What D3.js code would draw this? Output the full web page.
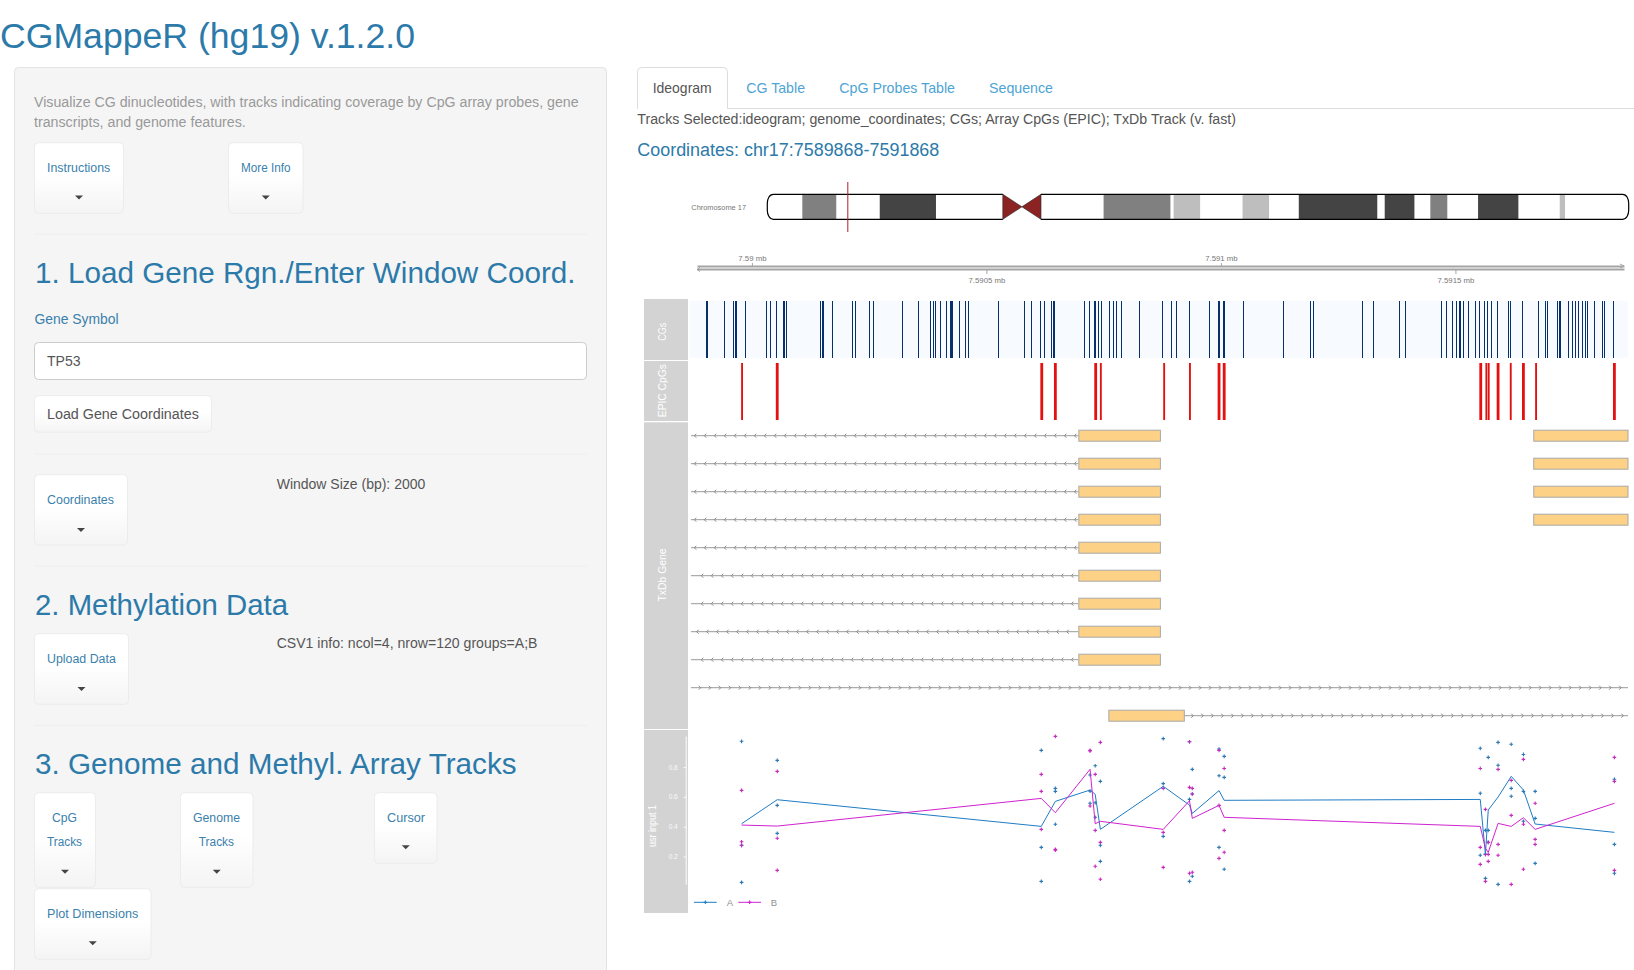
<!DOCTYPE html>
<html><head><meta charset="utf-8"><title>CGMappeR</title>
<script src="https://cdn.jsdelivr.net/npm/d3@7/dist/d3.min.js"></script>
<style>html,body{margin:0;padding:0;background:#fff;overflow:hidden}svg{display:block}text{font-family:"Liberation Sans",Arial,sans-serif}</style>
</head><body><svg id="p" width="1634" height="970"></svg>
<script>
// ---------- chart data ----------
const windowStart = 7589868, windowEnd = 7591868;
// CG dinucleotide positions, bp from window start
const cgOffsets = [34,36,73,91,96,98,118,129,163,171,184,198,200,205,225,277,281,283,303,346,352,382,391,453,487,512,519,523,534,545,555,557,559,574,587,593,
 657,713,728,747,755,770,775,777,841,851,861,863,871,876,894,902,909,920,958,1007,1026,1037,1064,1107,1126,1128,1136,1138,1180,1265,1322,1329,
 1433,1457,1512,1525,1602,1612,1625,1634,1639,1641,1649,1659,1674,1683,1693,1700,1708,1721,1745,1749,1774,1809,1824,1828,1848,1853,1855,1873,1881,1887,1894,1902,1909,1913,1928,1945,1949,1968];
// EPIC probe centres and spans (bp)
const epicOffsets = [111,186,750,779,865,876,1011,1066,1128,1139,1686,1698,1703,1723,1750,1777,1804,1971];
const epicSpans   = [4,6,6,6,6,4,4,4,6,6,6,4,4,6,4,6,4,6];
// Transcripts: exon ranges in bp, intron range, strand, first arrow
const txExons = [
 [[828,1003],[1798,2000]],[[828,1003],[1798,2000]],[[828,1003],[1798,2000]],[[828,1003],[1798,2000]],
 [[828,1003]],[[828,1003]],[[828,1003]],[[828,1003]],[[828,1003]],[],[[892,1054]]];
const txIntronStart = [2,2,2,2,2,2,2,2,2,2,1054];
const txIntronEnd   = [828,828,828,828,828,828,828,828,828,2000,2000];
const txStrand      = [-1,-1,-1,-1,-1,-1,-1,-1,-1,1,1];
const txFirstArrow  = [9,9,9,9,9,24,24,14,24,23,1073];
// Methylation sites
const siteOffsets = [110,186,749,779,853,864,875,1009,1065,1071,1128,1139,1685,1696,1702,1723,1751,1777,1802,1971];
const methylA = [[.973,.275,.026],[.845,.543,.355],[.912,.261,.033],[.657,.637,.416],[.747,.639,.557],[.809,.561,.463],[.704,.275,.167],[.991,.689,.335],[.970,.583,.033],[.785,.619,.067],
 [.921,.742,.261],[.872,.731,.114],[.926,.624,.208],[.375,.214,.053],[.865,.375,.295],[.966,.812,.013],[.953,.657,.604],[.885,.637,.436],[.637,.456,.154],[.718,.281,.087]];
const methylB = [[.644,.299,.275],[.771,.322,.107],[.751,.637,.382],[1.006,.248,.243],[.912,.908,.539],[.751,.375,.134],[.966,.295,.047],[.657,.362,.127],[.970,.664,.087],[.657,.619,.094],
 [.912,.543,.187],[.791,.375,.228],[.791,.261,.147],[.516,.214,.033],[.295,.214,.167],[.785,.281,.208],[.711,.476,.013],[.852,.416,.114],[.557,.315,.281],[.865,.704,.107]];
const meanA = [.420,.581,.402,.570,.646,.617,.382,.671,.545,.489,.642,.577,.583,.214,.512,.599,.738,.646,.418,.362];
const meanB = [.411,.404,.590,.494,.785,.420,.436,.382,.574,.456,.543,.463,.402,.255,.228,.422,.402,.460,.382,.557];
const yTicks = [.2,.4,.6,.8];
const groups = ["A","B"];
// Ideogram bands, Mb
const chrLength = 81.2, cenStart = 22.2, cenMid = 24.0, cenEnd = 25.8;
const bandStart = [3.3,10.6,31.7,38.3,44.8,50.1,58.2,62.5,67.0,74.7];
const bandEnd   = [6.5,15.9,38.0,40.8,47.3,57.5,61.0,64.1,70.8,75.2];
const bandStain = ["m","d","m","l","l","d","d","m","d","l"];
const axisTopTicks = [7590000,7591000], axisBottomTicks = [7590500,7591500];
// ---------- page text ----------
const pageTitle = "CGMappeR (hg19) v.1.2.0";
const introLines = ["Visualize CG dinucleotides, with tracks indicating coverage by CpG array probes, gene","transcripts, and genome features."];
const tabNames = ["Ideogram","CG Table","CpG Probes Table","Sequence"];

const svg = d3.select("#p");
const BLUE="#2c7aa9", LINK="#3b7fac", BODY="#555";
function txt(g,s,x,yc,size,col,right,anchor){
  const t=g.append("text").attr("x",x).attr("y",yc).attr("dy","0.35em").attr("font-size",size).attr("fill",col).text(s);
  if(right!=null){t.attr("textLength",right-x).attr("lengthAdjust","spacingAndGlyphs");}
  if(anchor)t.attr("text-anchor",anchor);
  return t;
}
// ---------- sidebar ----------
const defs=svg.append("defs");
const grad=defs.append("linearGradient").attr("id","btn").attr("x1",0).attr("y1",0).attr("x2",0).attr("y2",1);
grad.append("stop").attr("offset","45%").attr("stop-color","#fff");
grad.append("stop").attr("offset","100%").attr("stop-color","#f4f4f4");
const ui=svg.append("g");
txt(ui,pageTitle,0,35.5,35.4,BLUE,415);
ui.append("rect").attr("x",14.5).attr("y",67.5).attr("width",592).attr("height",930).attr("rx",4).attr("fill","#f5f5f5").attr("stroke","#e3e3e3");
txt(ui,introLines[0],34,102,14,"#999",578.6);
txt(ui,introLines[1],34,122,14,"#999",245.8);
[234,454,566,725.7].forEach(y=>ui.append("line").attr("x1",34).attr("x2",587).attr("y1",y).attr("y2",y).attr("stroke","#eeeeee"));
[["1. Load Gene Rgn./Enter Window Coord.",35,273,575.5],["2. Methylation Data",35,605,288],["3. Genome and Methyl. Array Tracks",35,764,516.6]]
 .forEach(d=>txt(ui,d[0],d[1],d[2],29.5,BLUE,d[3]));
txt(ui,"Gene Symbol",34.4,319,14,LINK,118.6);
ui.append("rect").attr("x",34.5).attr("y",342.5).attr("width",552).attr("height",37).attr("rx",4).attr("fill","#fff").attr("stroke","#ccc");
txt(ui,"TP53",47,361,14,BODY,80.6);
txt(ui,"Window Size (bp): 2000",276.7,484,14,BODY,425.3);
txt(ui,"CSV1 info: ncol=4, nrow=120 groups=A;B",276.7,643.3,14,BODY,537.5);
const buttons=[
 {x0:34.5,x1:123.5,y0:142.7,y1:213.3,lab:[["Instructions",47,110.3,168]],caret:197.5},
 {x0:228.5,x1:303,y0:142.7,y1:213.3,lab:[["More Info",241,290.5,168]],caret:197.5},
 {x0:34.5,x1:127.5,y0:474.7,y1:545,lab:[["Coordinates",47,114,499.5]],caret:530},
 {x0:34.5,x1:128.5,y0:633.7,y1:704.3,lab:[["Upload Data",47,115.8,658.7]],caret:689},
 {x0:34.5,x1:95.5,y0:792.7,y1:887.3,lab:[["CpG",52,77,817.7],["Tracks",47,82,841.7]],caret:871.7},
 {x0:180.5,x1:253,y0:792.7,y1:887.3,lab:[["Genome",193,240,817.7],["Tracks",198.8,234,841.7]],caret:871.7},
 {x0:374.5,x1:437,y0:792.7,y1:863.3,lab:[["Cursor",387,425,817.7]],caret:847.3},
 {x0:34.5,x1:151,y0:888.7,y1:959.3,lab:[["Plot Dimensions",47,138.3,913.3]],caret:943.3}
];
buttons.forEach(b=>{
  ui.append("rect").attr("x",b.x0).attr("y",b.y0).attr("width",b.x1-b.x0).attr("height",b.y1-b.y0).attr("rx",4).attr("fill","url(#btn)").attr("stroke","#ececec");
  b.lab.forEach(l=>txt(ui,l[0],l[1],l[3],12.5,LINK,l[2]));
  const cx=(b.x0+b.x1)/2;
  ui.append("path").attr("d",`M${cx-4},${b.caret-2}H${cx+4}L${cx},${b.caret+2}Z`).attr("fill","#444");
});
ui.append("rect").attr("x",34.5).attr("y",395.7).attr("width",177).attr("height",36.5).attr("rx",4).attr("fill","url(#btn)").attr("stroke","#ececec");
txt(ui,"Load Gene Coordinates",47,414,14,BODY,198.8);
// ---------- tabs ----------
const tabs=svg.append("g");
tabs.append("line").attr("x1",637).attr("x2",1634).attr("y1",108.5).attr("y2",108.5).attr("stroke","#ddd");
tabs.append("path").attr("d","M637.5,109V71.5Q637.5,67.5 641.5,67.5H723.5Q727.5,67.5 727.5,71.5V109").attr("fill","#fff").attr("stroke","#ddd");
tabs.append("rect").attr("x",638).attr("y",107).attr("width",89).attr("height",3).attr("fill","#fff");
const tabX=[652.7,746.3,839.3,989], tabR=[711.7,805,955,1053];
tabNames.forEach((n,i)=>txt(tabs,n,tabX[i],88,14.5,i?"#4ea4d4":BODY,tabR[i]));
txt(tabs,"Tracks Selected:ideogram; genome_coordinates; CGs; Array CpGs (EPIC); TxDb Track (v. fast)",637.3,119,14,BODY,1236);
txt(tabs,"Coordinates: chr17:7589868-7591868",637.3,149.3,18,"#2c7aa9",939.3);
// ---------- ideogram ----------
const ig=svg.append("g");
const ideoX=d3.scaleLinear().domain([0,chrLength]).range([767.3,1628.7]);
const iT=194.3,iB=219.3,bandFill={d:"#444444",m:"#808080",l:"#bebebe"};
txt(ig,"Chromosome 17",691.3,207.5,7.6,"#777",746);
ig.append("rect").attr("x",ideoX(0)).attr("y",iT).attr("width",ideoX(chrLength)-ideoX(0)).attr("height",iB-iT).attr("rx",6).attr("fill","#fff");
ig.selectAll("rect.band").data(bandStart).join("rect").attr("class","band")
  .attr("x",d=>ideoX(d)).attr("y",iT).attr("width",(d,i)=>ideoX(bandEnd[i])-ideoX(d)).attr("height",iB-iT).attr("fill",(d,i)=>bandFill[bandStain[i]]);
const cs=ideoX(cenStart),cm=ideoX(cenMid),ce=ideoX(cenEnd),L=ideoX(0),R=ideoX(chrLength),mid=(iT+iB)/2;
ig.append("path").attr("d",`M${cs},${iT}L${cm},${mid}L${cs},${iB}Z`).attr("fill","#8b2323").attr("stroke","#222").attr("stroke-width",.6);
ig.append("path").attr("d",`M${ce},${iT}L${cm},${mid}L${ce},${iB}Z`).attr("fill","#8b2323").attr("stroke","#222").attr("stroke-width",.6);
ig.append("path").attr("fill","none").attr("stroke","#000").attr("stroke-width",1.2)
  .attr("d",`M${cs},${iT}H${L+6}C${L+2},${iT} ${L},${iT+5} ${L},${iT+9}V${iB-9}C${L},${iB-5} ${L+2},${iB} ${L+6},${iB}H${cs}M${ce},${iT}H${R-6}C${R-2},${iT} ${R},${iT+5} ${R},${iT+9}V${iB-9}C${R},${iB-5} ${R-2},${iB} ${R-6},${iB}H${ce}`);
const locMb=(windowStart+windowEnd)/2e6;
ig.append("line").attr("x1",ideoX(locMb)).attr("x2",ideoX(locMb)).attr("y1",182).attr("y2",232).attr("stroke","#b01c28").attr("stroke-width",1);
// ---------- genome axis ----------
const x=d3.scaleLinear().domain([0,2000]).range([690,1628]);
const xBp=d3.scaleLinear().domain([windowStart,windowEnd]).range([690,1628]);
const xClip=xBp.copy().domain([xBp.invert(697),xBp.invert(1624)]).range([697,1624]);
const fmtMb=d=>(d/1e6)+" mb";
const axT=svg.append("g").attr("transform","translate(0,266)").call(d3.axisTop(xClip).tickValues(axisTopTicks).tickFormat(fmtMb).tickSize(3).tickSizeOuter(0));
const axB=svg.append("g").attr("transform","translate(0,269)").call(d3.axisBottom(xClip).tickValues(axisBottomTicks).tickFormat(fmtMb).tickSize(5).tickSizeOuter(0));
[axT,axB].forEach(a=>{a.select(".domain").attr("stroke","#a4a4a4").attr("stroke-width",2);
  a.selectAll(".tick line").attr("stroke","#a4a4a4");
  a.selectAll(".tick text").attr("fill","#777").attr("font-size",7.8).attr("font-family","Liberation Sans");});
axT.selectAll(".tick text").attr("y",-5);
axB.selectAll(".tick text").attr("y",8);
svg.append("path").attr("d","M700,267.5L697,269.5L700,271.5M1620,264L1624,266L1620,268").attr("fill","none").attr("stroke","#a4a4a4");
// ---------- track title panels ----------
const panels=[[299,360,"CGs",331.7,662.7,18],[361,421,"EPIC CpGs",390.7,662.7,53],[422.3,729,"TxDb Gene",575,662.7,53],[730,913,"usr input 1",826,652.5,42]];
panels.forEach(p=>{
  svg.append("rect").attr("x",644).attr("y",p[0]).attr("width",44).attr("height",p[1]-p[0]).attr("fill","#d3d3d3");
  svg.append("text").attr("transform",`translate(${p[4]},${p[3]}) rotate(-90)`).attr("text-anchor","middle").attr("dy","0.35em")
     .attr("font-size",10).attr("fill","#fff").attr("textLength",p[5]).attr("lengthAdjust","spacingAndGlyphs").text(p[2]);
});
// ---------- CG track ----------
const cgT=300.7,cgB=357.7;
svg.append("rect").attr("x",x(0)).attr("y",cgT).attr("width",x(2000)-x(0)).attr("height",cgB-cgT).attr("fill","#f7fbff");
svg.append("g").selectAll("rect").data(cgOffsets).join("rect").attr("x",d=>x(d)).attr("y",cgT).attr("width",d=>x(d+2)-x(d)).attr("height",cgB-cgT)
  .attr("fill","#08306b").attr("shape-rendering","crispEdges");
// ---------- EPIC track ----------
svg.append("g").selectAll("rect").data(epicOffsets).join("rect").attr("x",(d,i)=>x(d-epicSpans[i]/2)).attr("y",363).attr("width",(d,i)=>x(epicSpans[i])-x(0)).attr("height",57)
  .attr("fill","#e41111");
// ---------- gene models ----------
const rowY=d3.scalePoint().domain(d3.range(txExons.length)).range([435.7,715.7]);
const gt=svg.append("g");
txExons.forEach((ex,i)=>{
  const y=rowY(i);
  gt.append("line").attr("x1",x(txIntronStart[i])).attr("x2",x(txIntronEnd[i])).attr("y1",y).attr("y2",y).attr("stroke","#9a9a9a");
  const marks=d3.range(txFirstArrow[i],txIntronEnd[i]-4,21.33);
  gt.append("path").attr("fill","none").attr("stroke","#8a8a8a").attr("stroke-width",1)
    .attr("d",marks.map(m=>{const s=txStrand[i];return `M${x(m)-s*2},${y-2}L${x(m)},${y}L${x(m)-s*2},${y+2}`;}).join(""));
  ex.forEach(e=>gt.append("rect").attr("x",x(e[0])+.5).attr("y",y-5.5).attr("width",x(e[1])-x(e[0])-.5).attr("height",11)
    .attr("fill","#fdd287").attr("stroke","#a9a9a9"));
});
// ---------- data track ----------
const y=d3.scaleLinear().domain([0.014,1.008]).range([884.2,736.1]);
const ya=svg.append("g").attr("transform","translate(685.7,0)").call(d3.axisLeft(y).tickValues(yTicks).tickFormat(d3.format(".1f")).tickSize(2).tickSizeOuter(0));
ya.select(".domain").attr("stroke","#fff");
ya.selectAll(".tick line").attr("stroke","#fff");
ya.selectAll(".tick text").attr("fill","#fafafa").attr("font-size",6.5).attr("x",-8).attr("font-family","Liberation Sans");
const colA="#1f7cc4",colB="#cf22cf",ptA="#2b78b4",ptB="#c42cbc";
const line=d3.line().x((d,i)=>x(siteOffsets[i])).y(d=>y(d));
const plus=d3.symbol().type(d3.symbolPlus||d3.symbolCross).size(5);
[[methylA,ptA],[methylB,ptB]].forEach(s=>{
  svg.append("g").selectAll("path").data(s[0].flatMap((v,i)=>v.map(w=>[i,w]))).join("path")
   .attr("d",plus).attr("transform",d=>`translate(${x(siteOffsets[d[0]])},${y(d[1])})`).attr("fill","none").attr("stroke",s[1]).attr("stroke-width",1.1);
});
svg.append("path").datum(meanA).attr("d",line).attr("fill","none").attr("stroke",colA).attr("stroke-width",1);
svg.append("path").datum(meanB).attr("d",line).attr("fill","none").attr("stroke",colB).attr("stroke-width",1);
// ---------- legend ----------
const lg=svg.append("g");
[[694,716.7,colA,726.7],[738.3,761,colB,770.7]].forEach((l,i)=>{
  lg.append("line").attr("x1",l[0]).attr("x2",l[1]).attr("y1",902.3).attr("y2",902.3).attr("stroke",l[2]).attr("stroke-width",1);
  lg.append("path").attr("d",plus).attr("transform",`translate(${(l[0]+l[1])/2},902.3)`).attr("fill","none").attr("stroke",l[2]).attr("stroke-width",1.1);
  lg.append("text").attr("x",l[3]).attr("y",903).attr("dy","0.35em").attr("font-size",9.5).attr("fill","#8f8f8f").text(groups[i]);
});
</script></body></html>
